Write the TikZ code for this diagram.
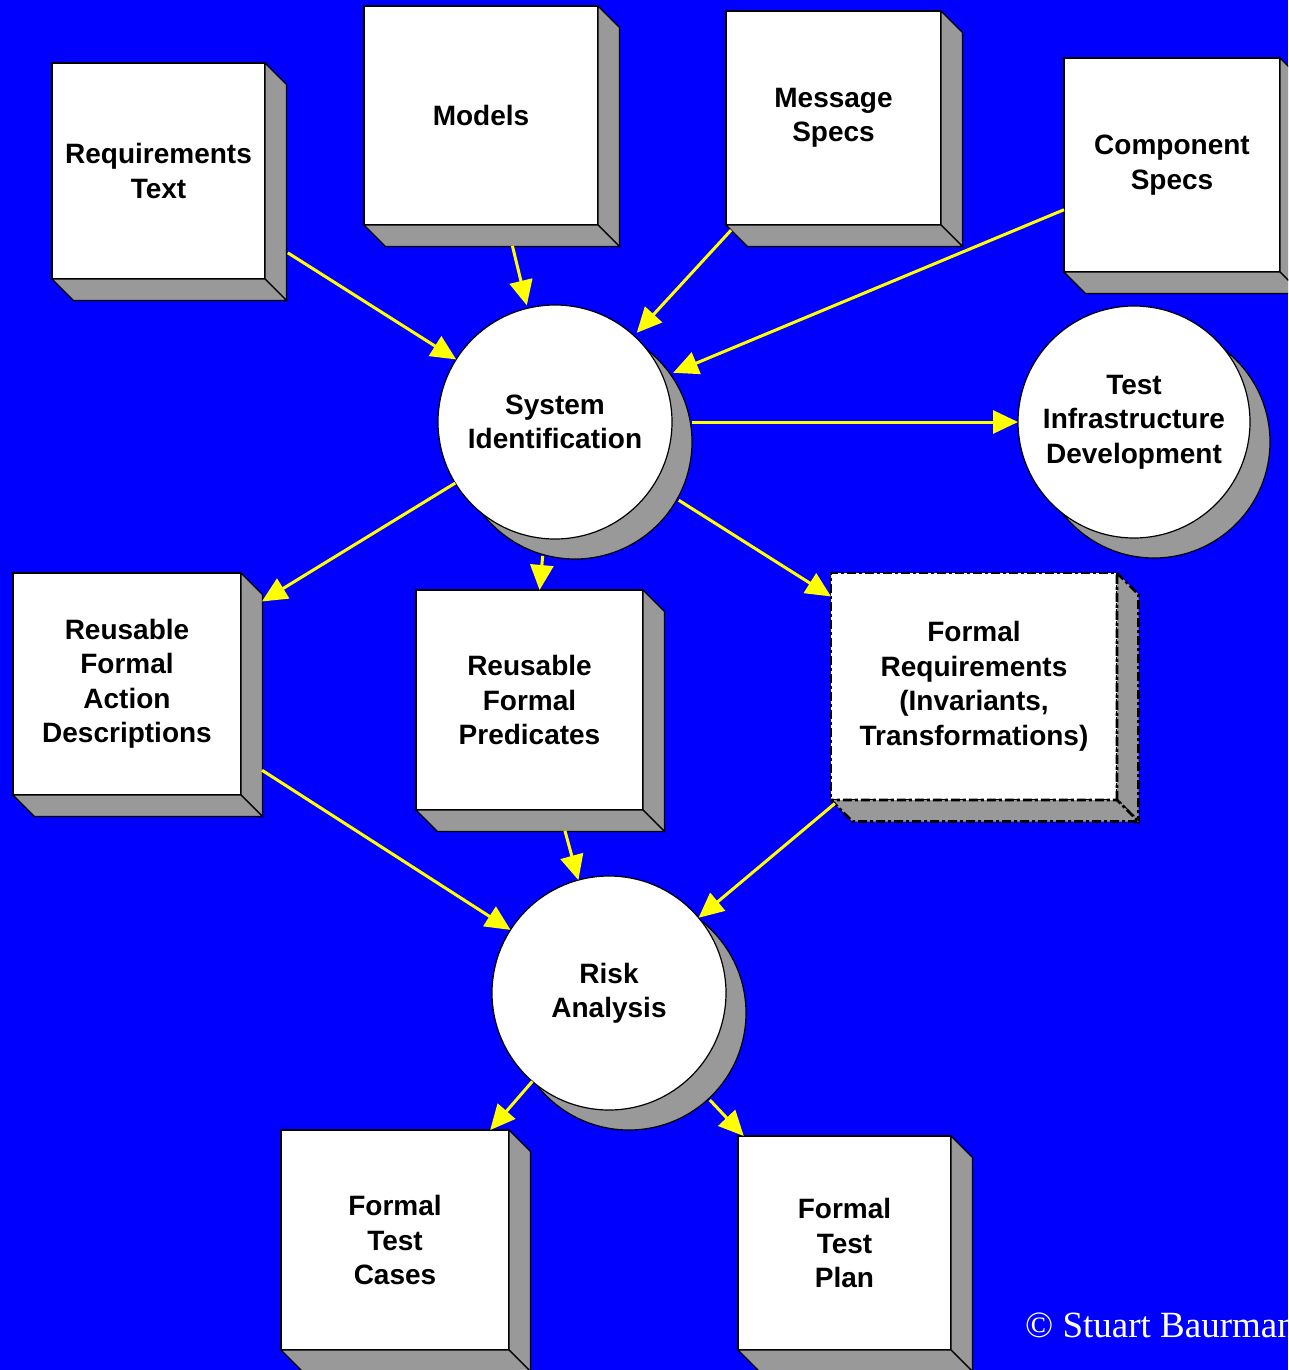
\documentclass[tikz,border=0pt]{standalone}
\usepackage{fontspec}
\newfontfamily\labelfont{Liberation Sans}[BoldFont={* Bold}]
\newfontfamily\notefont{Liberation Serif}
\usetikzlibrary{arrows.meta,shadows,calc}

\definecolor{bgblue}{RGB}{0,0,255}
\definecolor{sidegray}{RGB}{153,153,153}
\definecolor{flowyellow}{RGB}{255,255,0}

% depth of the extruded box sides
\newcommand\boxdepth{21.5}

% grey side and bottom faces behind a front-face node
\newcommand\extrude[2][]{%
  \draw[tside,#1] (#2.north east) -- ++(\boxdepth,\boxdepth)
    -- ($(#2.south east)+(\boxdepth,\boxdepth)$) -- (#2.south east) -- cycle;
  \draw[tside,#1] (#2.south west) -- ($(#2.south west)+(\boxdepth,\boxdepth)$)
    -- ($(#2.south east)+(\boxdepth,\boxdepth)$) -- (#2.south east) -- cycle;
}

\tikzset{
  tbox/.style={draw=black, line width=1.2pt, fill=white, inner sep=0pt,
    outer sep=0pt, align=center,
    font=\labelfont\bfseries\fontsize{28}{34.5}\selectfont},
  tside/.style={draw=black, line width=1.2pt, fill=sidegray, line join=miter},
  tdisc/.style={circle, draw=black, line width=1.2pt, fill=white,
    minimum size=234pt, inner sep=0pt, outer sep=0pt, align=center,
    font=\labelfont\bfseries\fontsize{28}{34.5}\selectfont,
    general shadow={fill=sidegray, draw=black, line width=1.2pt,
      shadow xshift=20pt, shadow yshift=-20pt}},
  tflow/.style={draw=flowyellow, line width=3pt,
    -{Triangle[length=25pt,width=23pt,fill=flowyellow]}},
  dashdot/.style={dash pattern=on 9pt off 3pt on 3pt off 3pt, line width=2.6pt}
}

\begin{document}
\begin{tikzpicture}[x=1pt,y=-1pt]
  \useasboundingbox (0,0) rectangle (1288,1370);
  \clip (0,0) rectangle (1288,1370);
  \fill[bgblue] (0,0) rectangle (1288,1370);

  % input artefacts
  \node[tbox, minimum width=213pt, minimum height=216pt] (req) at (158.5,171)
    {Requirements\\Text};
  \node[tbox, minimum width=234pt, minimum height=219pt] (models) at (481,115.5)
    {Models};
  \node[tbox, minimum width=215pt, minimum height=214pt] (msg) at (833.5,118)
    {Message\\Specs};
  \node[tbox, minimum width=216pt, minimum height=214pt] (comp) at (1172,165)
    {Component\\Specs};
  \extrude{req}
  \extrude{models}
  \extrude{msg}
  \extrude{comp}

  % intermediate artefacts
  \node[tbox, minimum width=228pt, minimum height=222pt] (rfad) at (127,684)
    {Reusable\\Formal\\Action\\Descriptions};
  \node[tbox, minimum width=227pt, minimum height=220pt] (rfp) at (529.5,700)
    {Reusable\\Formal\\Predicates};
  \node[tbox, dashdot, minimum width=286pt, minimum height=227pt] (fr) at (974,686.5)
    {Formal\\Requirements\\(Invariants,\\Transformations)};
  \extrude{rfad}
  \extrude{rfp}
  \extrude[dashdot]{fr}

  % outputs
  \node[tbox, minimum width=228pt, minimum height=220pt] (ftc) at (395,1240)
    {Formal\\Test\\Cases};
  \node[tbox, minimum width=213pt, minimum height=214pt] (ftp) at (844.5,1243)
    {Formal\\Test\\Plan};
  \extrude{ftc}
  \extrude{ftp}

  % activities
  \node[tdisc] (sys) at (555,422) {System\\Identification};
  \node[tdisc, minimum size=232pt] (tid) at (1134,422)
    {Test\\Infrastructure\\Development};
  \node[tdisc] (risk) at (609,993) {Risk\\Analysis};

  % connectors
  \draw[tflow, shorten <=27pt] (req) -- (sys);
  \draw[tflow, shorten <=21.5pt, shorten >=3pt] (models) -- (sys);
  \draw[tflow, shorten <=7pt, shorten >=4pt] (msg) -- (sys);
  \draw[tflow, shorten >=11pt] (comp) -- (sys);
  \draw[tflow, shorten <=20pt] (sys) -- (tid);
  \draw[tflow, shorten >=24.5pt] (sys) -- (rfad);
  \draw[tflow, shorten <=17.5pt] (sys) -- (rfp);
  \draw[tflow, shorten <=29.5pt] (sys) -- (fr);
  \draw[tflow, shorten <=25pt] (rfad) -- (risk);
  \draw[tflow, shorten <=21.5pt] (rfp) -- (risk);
  \draw[tflow, shorten <=5.5pt] (fr) -- (risk);
  \draw[tflow] (risk) -- (ftc);
  \draw[tflow, shorten <=30pt] (risk) -- (ftp);

  % credit line
  \node[anchor=base west, inner sep=0pt, text=white,
    font=\notefont\fontsize{37}{40}\selectfont] (credit) at (1025,1337)
    {© Stuart Baurman};
\end{tikzpicture}
\end{document}
